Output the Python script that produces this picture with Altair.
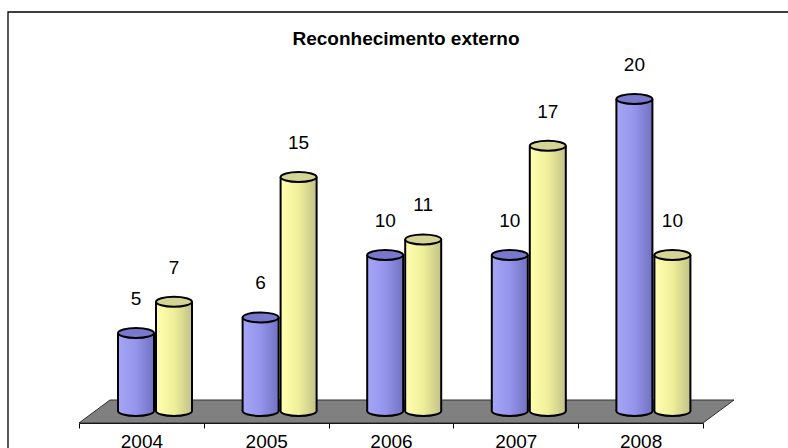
import altair as alt
import pandas as pd

years = ["2004", "2005", "2006", "2007", "2008"]
series_names = ["Série 1", "Série 2"]
serie1 = [5, 6, 10, 10, 20]
serie2 = [7, 15, 11, 17, 10]
chart_title = "Reconhecimento externo"

rows = []
for i, y in enumerate(years):
    rows.append({"year": y, "series": series_names[0], "value": serie1[i]})
    rows.append({"year": y, "series": series_names[1], "value": serie2[i]})
df = pd.DataFrame(rows)

W, H = 624, 363
FONT = "Liberation Sans"
R0, R1 = 38, 612.4
HALF = 18

ysc = alt.Scale(domain=[-0.77, 22.5], nice=False, zero=False)
xosc = alt.Scale(domain=series_names, paddingInner=0, paddingOuter=0)


def xenc(shift=0):
    return alt.X("year:N", sort=years, axis=None,
                 scale=alt.Scale(range=[R0 + shift, R1 + shift],
                                 paddingInner=0.39, paddingOuter=0))


XO = alt.XOffset("series:N", scale=xosc)
Y = alt.Y("value:Q", scale=ysc, axis=None)
Y0 = alt.Y(datum=0, scale=ysc, axis=None)

k = 0.5523
ry = 0.278
ellipse = (f"M -1 0 C -1 {-k*ry:.4f} {-k:.4f} {-ry} 0 {-ry} "
           f"C {k:.4f} {-ry} 1 {-k*ry:.4f} 1 0 "
           f"C 1 {k*ry:.4f} {k:.4f} {ry} 0 {ry} "
           f"C {-k:.4f} {ry} -1 {k*ry:.4f} -1 0 Z")
ell_size = (2 * HALF) ** 2

floor_path = "M -1 0.0351 L 0.9053 0.0351 L 1 -0.0351 L -0.9053 -0.0351 Z"

grad_blue = alt.LinearGradient(
    gradient="linear", x1=0, x2=1, y1=0, y2=0,
    stops=[alt.GradientStop(color="#a6a6f6", offset=0),
           alt.GradientStop(color="#9494ec", offset=0.5),
           alt.GradientStop(color="#7272c2", offset=1)])
grad_yel = alt.LinearGradient(
    gradient="linear", x1=0, x2=1, y1=0, y2=0,
    stops=[alt.GradientStop(color="#ffffb0", offset=0),
           alt.GradientStop(color="#efef9a", offset=0.5),
           alt.GradientStop(color="#c2c288", offset=1)])
grads = [grad_blue, grad_yel]
tops = ["#7878cc", "#d4d494"]

base = alt.Chart(df)

frame = alt.Chart(alt.Data(values=[{}])).mark_rect(
    fill="transparent", stroke="black", strokeWidth=1.3
).encode(x=alt.value(-71), x2=alt.value(760), y=alt.value(-48), y2=alt.value(420))

title = alt.Chart(alt.Data(values=[{"t": chart_title}])).mark_text(
    fontSize=19, fontWeight="bold", font=FONT, color="black",
    align="center", baseline="alphabetic"
).encode(x=alt.value(327), y=alt.value(-15), text="t:N")

floor = alt.Chart(alt.Data(values=[{}])).mark_point(
    shape=floor_path, size=655 * 655, filled=True, fill="#808080",
    stroke="#303030", strokeWidth=1, opacity=1
).encode(x=alt.value(327.5), y=alt.value(351.5))

axis_layer = alt.Chart(pd.DataFrame({"year": years})).mark_point(opacity=0).encode(
    x=alt.X("year:N", sort=years,
            scale=alt.Scale(paddingInner=0, paddingOuter=0),
            axis=alt.Axis(title=None, tickBand="extent", domainColor="black",
                          tickColor="black", tickSize=5, labelFontSize=19,
                          labelFont=FONT, labelColor="black", labelPadding=4,
                          labelAngle=0, grid=False)),
    y=alt.value(0),
)

layers = [frame, title, floor, axis_layer]

for i, s in enumerate(series_names):
    sub = base.transform_filter(alt.datum.series == s)
    bottom = sub.mark_point(shape=ellipse, size=ell_size, filled=True,
                            fill=grads[i], stroke="black", strokeWidth=2,
                            opacity=1).encode(x=xenc(), xOffset=XO, y=Y0)
    body = sub.mark_bar(width=2 * HALF, color=grads[i]).encode(
        x=xenc(), xOffset=XO, y=Y, y2=alt.Y2(datum=0))
    left = sub.mark_rule(strokeWidth=2, color="black").encode(
        x=xenc(-HALF), xOffset=XO, y=Y, y2=alt.Y2(datum=0))
    right = sub.mark_rule(strokeWidth=2, color="black").encode(
        x=xenc(HALF), xOffset=XO, y=Y, y2=alt.Y2(datum=0))
    top = sub.mark_point(shape=ellipse, size=ell_size, filled=True,
                         fill=tops[i], stroke="black", strokeWidth=2,
                         opacity=1).encode(x=xenc(), xOffset=XO, y=Y)
    layers += [bottom, body, left, right, top]

labels = base.mark_text(dy=-34, fontSize=19, font=FONT, color="black",
                        baseline="middle").encode(
    x=xenc(), xOffset=XO, y=Y, text=alt.Text("value:Q"))
layers.append(labels)

chart = alt.layer(*layers).resolve_scale(x="independent").properties(
    width=W, height=H,
    autosize=alt.AutoSizeParams(type="none"),
    padding={"left": 79, "top": 60, "right": 85, "bottom": 25},
).configure(background="white", view=alt.ViewConfig(stroke=None))

chart.save("out.html", embed_options={"renderer": "svg", "actions": False})
